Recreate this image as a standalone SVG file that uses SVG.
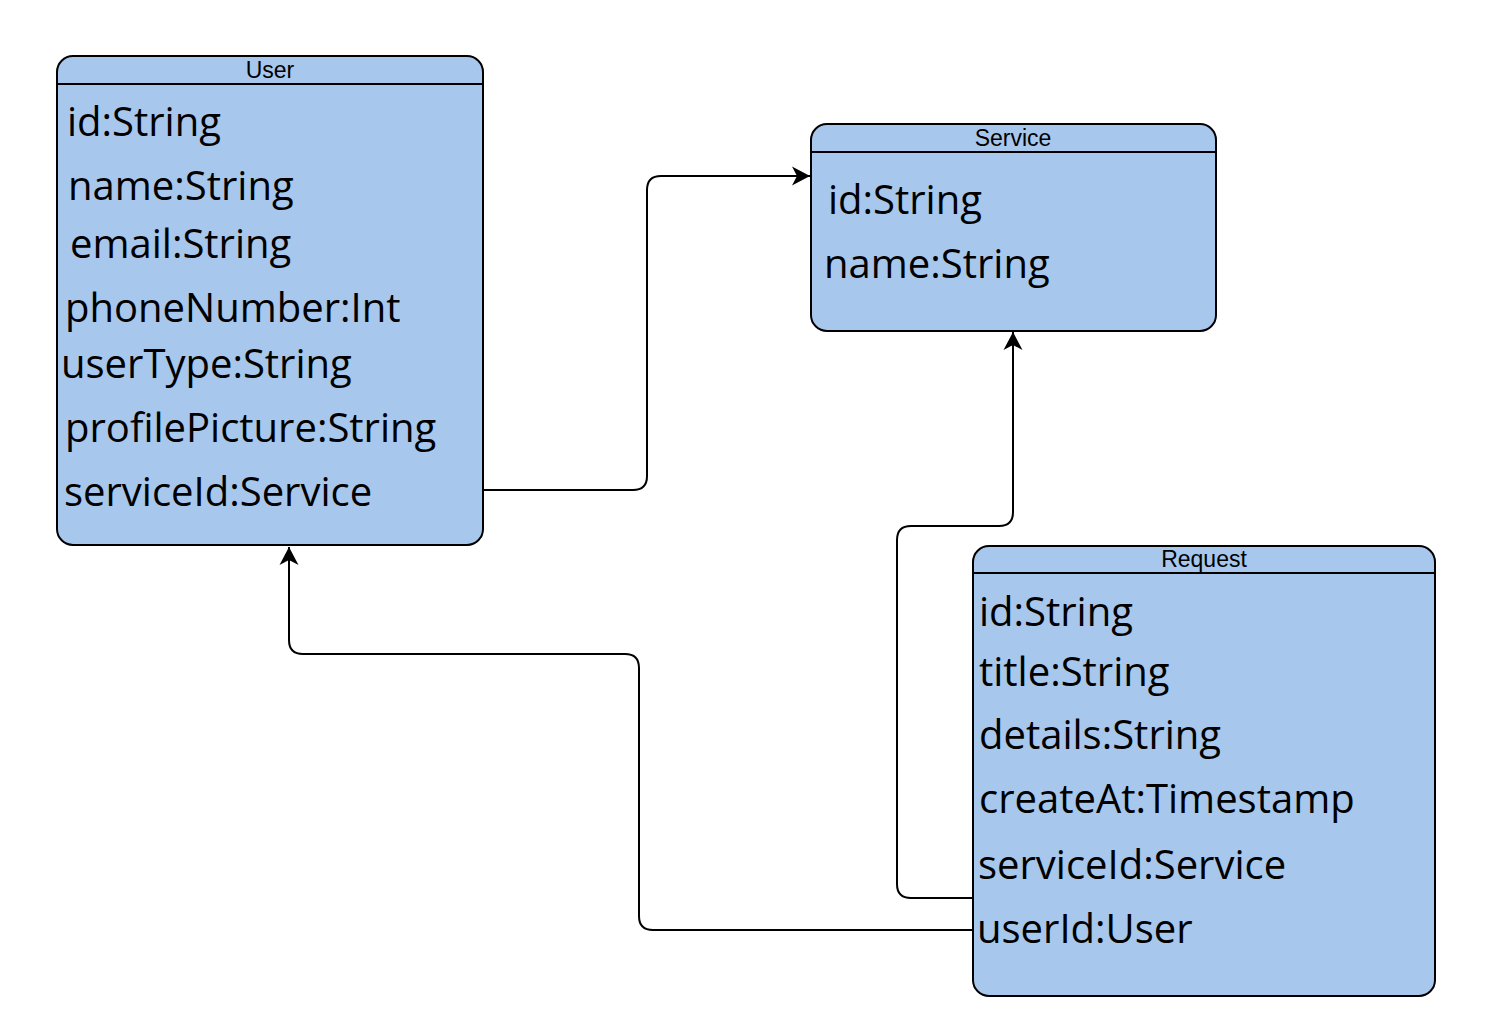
<svg xmlns="http://www.w3.org/2000/svg" width="1500" height="1030" viewBox="0 0 1500 1030">
<style>
.box{fill:#A8C7EC;stroke:#000;stroke-width:2}
.sep{stroke:#000;stroke-width:2;fill:none}
.hdr{font-family:"Liberation Sans",Arial,sans-serif;font-size:23px;fill:#000;text-anchor:middle}
.fld{font-family:"Open Sans","Noto Sans",sans-serif;font-size:40px;fill:#000}
.edge{fill:none;stroke:#000;stroke-width:2}
</style>
<defs>
<marker id="arr" markerUnits="userSpaceOnUse" markerWidth="20" markerHeight="20" viewBox="0 0 20 20" refX="18" refY="10" orient="auto">
<path d="M0,0.5 L18,10 L0,19.5 L5,10 Z" fill="#000"/>
</marker>
</defs>
<rect width="1500" height="1030" fill="#fff"/>
<g id="connectors">
<path class="edge" d="M482,490 H633 Q647,490 647,476 V190 Q647,176 661,176 H810" marker-end="url(#arr)"/>
<path class="edge" d="M975,898 H911 Q897,898 897,884 V540 Q897,526 911,526 H999 Q1013,526 1013,512 V332" marker-end="url(#arr)"/>
<path class="edge" d="M973,930 H653 Q639,930 639,916 V668 Q639,654 625,654 H303 Q289,654 289,640 V547" marker-end="url(#arr)"/>
</g>
<g id="user">
<rect class="box" x="57" y="56" width="426" height="489" rx="16"/>
<line class="sep" x1="57" y1="84" x2="483" y2="84"/>
<text class="hdr" x="270" y="78">User</text>
<text class="fld" x="67" y="136">id:String</text>
<text class="fld" x="68" y="200">name:String</text>
<text class="fld" x="70" y="258">email:String</text>
<text class="fld" x="65" y="322">phoneNumber:Int</text>
<text class="fld" x="61" y="378">userType:String</text>
<text class="fld" x="65" y="442">profilePicture:String</text>
<text class="fld" x="64" y="506">serviceId:Service</text>
</g>
<g id="service">
<rect class="box" x="811" y="124" width="405" height="207" rx="16"/>
<line class="sep" x1="811" y1="152" x2="1216" y2="152"/>
<text class="hdr" x="1013" y="146">Service</text>
<text class="fld" x="828" y="214">id:String</text>
<text class="fld" x="824" y="278">name:String</text>
</g>
<g id="request">
<rect class="box" x="973" y="546" width="462" height="450" rx="16"/>
<line class="sep" x1="973" y1="573" x2="1435" y2="573"/>
<text class="hdr" x="1204" y="567">Request</text>
<text class="fld" x="979" y="626">id:String</text>
<text class="fld" x="979" y="686">title:String</text>
<text class="fld" x="979" y="749">details:String</text>
<text class="fld" x="979" y="813">createAt:Timestamp</text>
<text class="fld" x="978" y="879">serviceId:Service</text>
<text class="fld" x="977" y="943">userId:User</text>
</g>
</svg>
